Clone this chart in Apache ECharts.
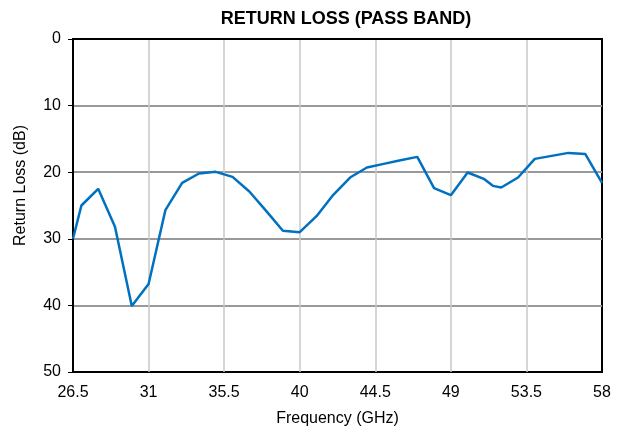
<!DOCTYPE html>
<html>
<head>
<meta charset="utf-8">
<script src="https://cdn.jsdelivr.net/npm/echarts@6/dist/echarts.min.js"></script>
<style>html,body{margin:0;padding:0;background:#fff}#c{width:625px;height:431px}</style>
</head>
<body>
<div id="c"></div>
<script>
var freqGHz = [26.5, 27, 28, 29, 30, 31, 32, 33, 34, 35, 36, 37, 38, 39, 40, 41, 42, 43, 44, 45, 46, 47, 48, 49, 50, 51, 51.5, 52, 53, 54, 55, 56, 57, 58];
var returnLossDb = [30.0, 25.0, 22.5, 28.2, 40.1, 36.8, 25.7, 21.6, 20.2, 19.95, 20.7, 22.9, 25.8, 28.8, 29.0, 26.6, 23.4, 20.8, 19.3, 18.75, 18.2, 17.7, 22.4, 23.45, 20.05, 21.05, 22.05, 22.3, 20.8, 18.0, 17.55, 17.1, 17.25, 21.6];
var xStart = 26.5, xEnd = 58, xStep = 4.5;
var yMin = 0, yMax = 50, yStep = 10;
var titleText = 'RETURN LOSS (PASS BAND)';
var xName = 'Frequency (GHz)';
var yName = 'Return Loss (dB)';

var seriesData = freqGHz.map(function (f, i) { return [f - xStart, returnLossDb[i]]; });
var font = 'Liberation Sans, Arial, sans-serif';
var chart = echarts.init(document.getElementById('c'));
chart.setOption({
  animation: false,
  title: { text: titleText, left: 341, top: 5, textAlign: 'center',
    textStyle: { fontFamily: font, fontSize: 18, fontWeight: 'bold', color: '#000' } },
  grid: { left: 73, right: 23, top: 39, bottom: 59, outerBoundsMode: 'none', containLabel: false,
    show: true, borderColor: '#000', borderWidth: 2, backgroundColor: 'transparent' },
  xAxis: {
    type: 'value', min: 0, max: xEnd - xStart, interval: xStep,
    name: xName, nameLocation: 'middle', nameGap: 39,
    nameTextStyle: { fontFamily: font, fontSize: 16, color: '#000' },
    axisLine: { show: true, lineStyle: { color: '#000', width: 2 } },
    axisTick: { show: false },
    axisLabel: { fontFamily: font, fontSize: 16, color: '#000', margin: 13,
      formatter: function (v) { return String(+(v + xStart).toFixed(1)); } },
    splitLine: { show: true, showMinLine: false, showMaxLine: false, lineStyle: { color: '#c8c8c8', width: 1.5 } }
  },
  yAxis: {
    type: 'value', inverse: true, min: yMin, max: yMax, interval: yStep,
    name: yName, nameLocation: 'middle', nameGap: 44,
    nameTextStyle: { fontFamily: font, fontSize: 16, color: '#000', padding: [0, 0, 0, 40] },
    axisLine: { show: true, lineStyle: { color: '#000', width: 2 } },
    axisTick: { show: true, length: 5, lineStyle: { color: '#000', width: 1 } },
    axisLabel: { fontFamily: font, fontSize: 16, color: '#000', margin: 12 },
    splitLine: { show: true, showMinLine: false, showMaxLine: false, lineStyle: { color: '#999', width: 2 } }
  },
  series: [{
    type: 'line', data: seriesData, showSymbol: false, symbol: 'none',
    lineStyle: { color: '#0070c0', width: 2.5 }, clip: true
  }]
});
</script>
</body>
</html>
